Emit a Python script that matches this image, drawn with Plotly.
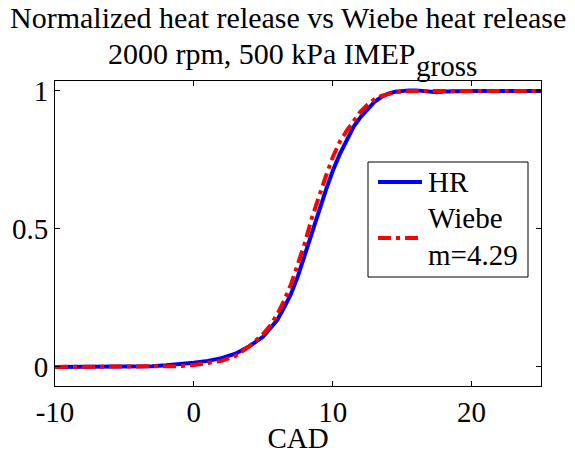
import plotly.graph_objects as go

# ---- data ----
hr_cad = [-10, -6, -3, -2, -1, 0, 1, 2, 3, 4, 5, 5.5, 6, 6.5, 7, 7.5, 8, 8.5, 9, 9.5,
          10, 10.5, 11, 11.5, 12, 12.5, 13, 13.5, 14, 14.5, 15, 15.5, 16, 16.5, 17,
          17.5, 18, 19, 20, 22, 25]
hr_val = [0, 0, 0.003, 0.006, 0.01, 0.015, 0.022, 0.032, 0.048, 0.075, 0.11, 0.14,
          0.17, 0.215, 0.265, 0.33, 0.41, 0.49, 0.565, 0.64, 0.71, 0.77, 0.82, 0.87,
          0.905, 0.935, 0.96, 0.978, 0.99, 0.997, 1.0, 1.002, 1.002, 1.0, 0.996,
          0.995, 0.998, 1.0, 1.0, 1.0, 1.0]

wb_cad = [-10, -4, -2, -1, 0, 1, 2, 3, 4, 5, 5.5, 6, 6.5, 7, 7.5, 8, 8.5, 9, 9.5, 10,
          10.5, 11, 11.5, 12, 12.5, 13, 13.5, 14, 14.5, 15, 16, 18, 25]
wb_val = [0, 0, 0.001, 0.003, 0.007, 0.013, 0.022, 0.04, 0.075, 0.12, 0.15, 0.19,
          0.24, 0.30, 0.37, 0.45, 0.54, 0.62, 0.69, 0.76, 0.815, 0.855, 0.89, 0.925,
          0.95, 0.97, 0.982, 0.99, 0.995, 0.998, 1.0, 1.0, 1.0]

x_ticks = [-10, 0, 10, 20]
y_ticks = [0, 0.5, 1]
y_tick_text = ["0", "0.5", "1"]

title_1 = "Normalized heat release vs Wiebe heat release"
title_2 = "2000 rpm, 500 kPa IMEP"
title_sub = "gross"
legend_names = ["HR", "Wiebe", "m=4.29"]

# ---- layout geometry ----
W, H = 575, 454
L, R, T, B = 55, 34, 81, 68
PW, PH = W - L - R, H - T - B
FONT = "Liberation Serif"
FS = 29


def px(x):
    return (x - L) / PW


def py(y):
    return (H - B - y) / PH


fig = go.Figure()
fig.add_trace(go.Scatter(x=hr_cad, y=hr_val, mode="lines", name="HR",
                         line=dict(color="#0000ff", width=4), showlegend=False))
fig.add_trace(go.Scatter(x=wb_cad, y=wb_val, mode="lines", name="Wiebe m=4.29",
                         line=dict(color="#ff0000", width=4, dash="13px,5px,4px,5px"),
                         showlegend=False))

axis_common = dict(showgrid=False, zeroline=False, showline=True, linecolor="black",
                   linewidth=1, mirror="ticks", ticks="inside", ticklen=5,
                   tickcolor="black", tickfont=dict(family=FONT, size=FS, color="black"))

fig.update_xaxes(range=[-10, 25], tickvals=x_ticks, ticktext=[str(v) for v in x_ticks],
                 title=dict(text="CAD", font=dict(family=FONT, size=FS, color="black"),
                            standoff=2),
                 **axis_common)
fig.update_yaxes(range=[-0.069, 1.036], tickvals=y_ticks, ticktext=y_tick_text,
                 **axis_common)

ann = []
ann.append(dict(text=title_1, x=px(288), y=py(18), xref="paper", yref="paper",
                xanchor="center", yanchor="middle", showarrow=False,
                font=dict(family=FONT, size=30, color="black")))
ann.append(dict(text=title_2, x=px(106), y=py(53), xref="paper", yref="paper",
                xanchor="left", yanchor="middle", showarrow=False,
                font=dict(family=FONT, size=30, color="black")))
ann.append(dict(text=title_sub, x=px(414), y=py(66), xref="paper", yref="paper",
                xanchor="left", yanchor="middle", showarrow=False,
                font=dict(family=FONT, size=29, color="black")))

# legend (drawn manually to match the original box)
shapes = [
    dict(type="rect", xref="paper", yref="paper", x0=px(368), x1=px(528),
         y0=py(277), y1=py(162), line=dict(color="black", width=1), fillcolor="white",
         layer="above"),
    dict(type="line", xref="paper", yref="paper", x0=px(378), x1=px(422),
         y0=py(182), y1=py(182), line=dict(color="#0000ff", width=4), layer="above"),
    dict(type="line", xref="paper", yref="paper", x0=px(378), x1=px(422),
         y0=py(238), y1=py(238), line=dict(color="#ff0000", width=4,
                                           dash="13px,5px,4px,5px"), layer="above"),
]
for txt, yy in zip(legend_names, [182, 218, 255]):
    ann.append(dict(text=txt, x=px(426), y=py(yy), xref="paper", yref="paper",
                    xanchor="left", yanchor="middle", showarrow=False,
                    font=dict(family=FONT, size=FS, color="black")))

fig.update_layout(width=W, height=H, margin=dict(l=L, r=R, t=T, b=B, autoexpand=False),
                  paper_bgcolor="white", plot_bgcolor="white", showlegend=False,
                  annotations=ann, shapes=shapes,
                  font=dict(family=FONT, size=FS, color="black"))

fig.write_html("out.html")
